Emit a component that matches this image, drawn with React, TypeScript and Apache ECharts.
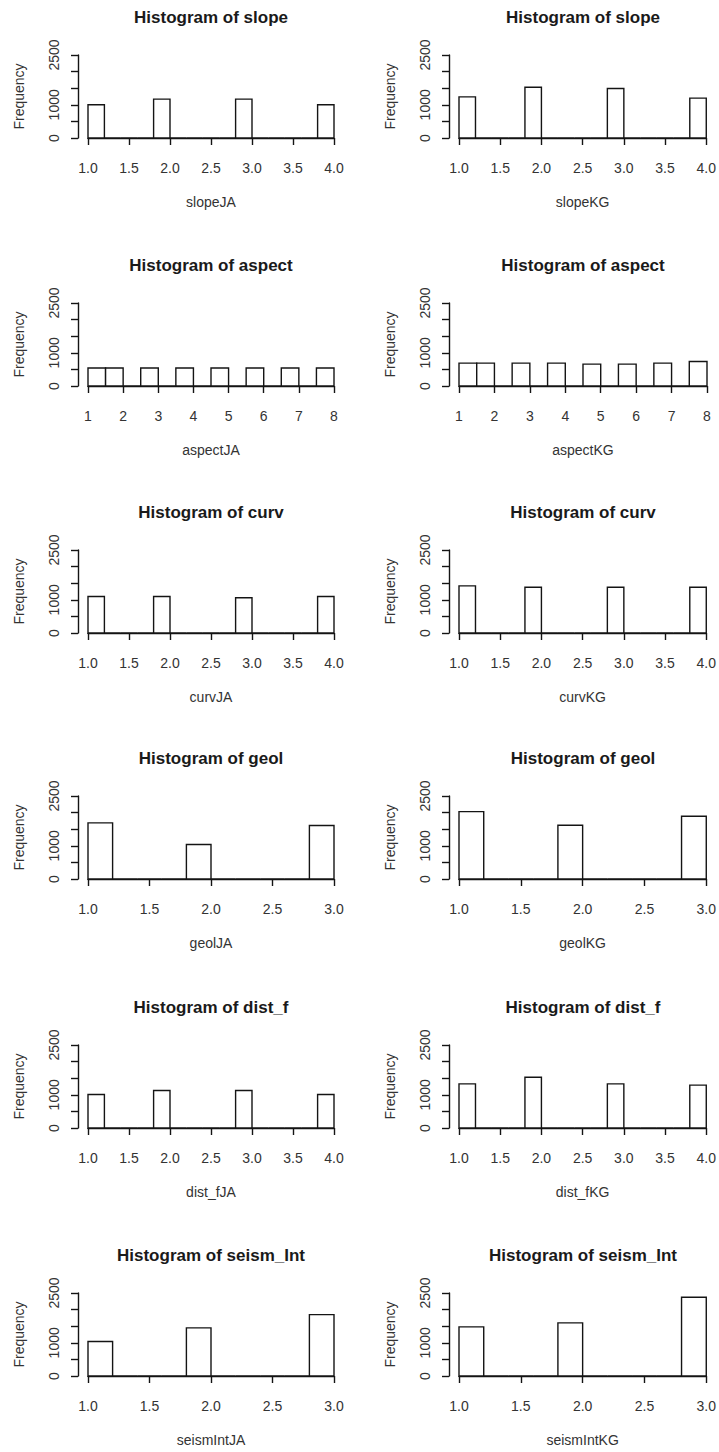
import React, { useEffect, useRef } from "react";
import * as echarts from "echarts";

// ---- bin breaks ----
const breaksOneToFour = [1.0, 1.2, 1.4, 1.6, 1.8, 2.0, 2.2, 2.4, 2.6, 2.8, 3.0, 3.2, 3.4, 3.6, 3.8, 4.0];
const breaksOneToEight = [1, 1.5, 2, 2.5, 3, 3.5, 4, 4.5, 5, 5.5, 6, 6.5, 7, 7.5, 8];
const breaksOneToThree = [1.0, 1.2, 1.4, 1.6, 1.8, 2.0, 2.2, 2.4, 2.6, 2.8, 3.0];

// ---- counts per bin ----
const slopeJA = [1000, 0, 0, 0, 1170, 0, 0, 0, 0, 1170, 0, 0, 0, 0, 1000];
const slopeKG = [1240, 0, 0, 0, 1530, 0, 0, 0, 0, 1490, 0, 0, 0, 0, 1200];
const aspectJA = [540, 540, 0, 540, 0, 540, 0, 540, 0, 540, 0, 540, 0, 540];
const aspectKG = [690, 690, 0, 690, 0, 690, 0, 660, 0, 660, 0, 690, 0, 740];
const curvJA = [1100, 0, 0, 0, 1100, 0, 0, 0, 0, 1060, 0, 0, 0, 0, 1100];
const curvKG = [1420, 0, 0, 0, 1380, 0, 0, 0, 0, 1380, 0, 0, 0, 0, 1380];
const geolJA = [1690, 0, 0, 0, 1040, 0, 0, 0, 0, 1610];
const geolKG = [2030, 0, 0, 0, 1620, 0, 0, 0, 0, 1890];
const distFJA = [1010, 0, 0, 0, 1130, 0, 0, 0, 0, 1130, 0, 0, 0, 0, 1010];
const distFKG = [1330, 0, 0, 0, 1530, 0, 0, 0, 0, 1330, 0, 0, 0, 0, 1290];
const seismIntJA = [1040, 0, 0, 0, 1450, 0, 0, 0, 0, 1850];
const seismIntKG = [1480, 0, 0, 0, 1600, 0, 0, 0, 0, 2370];

// ---- labels ----
const panelTitles = [
  "Histogram of slope", "Histogram of slope",
  "Histogram of aspect", "Histogram of aspect",
  "Histogram of curv", "Histogram of curv",
  "Histogram of geol", "Histogram of geol",
  "Histogram of dist_f", "Histogram of dist_f",
  "Histogram of seism_Int", "Histogram of seism_Int",
];
const xAxisNames = [
  "slopeJA", "slopeKG", "aspectJA", "aspectKG", "curvJA", "curvKG",
  "geolJA", "geolKG", "dist_fJA", "dist_fKG", "seismIntJA", "seismIntKG",
];
const yAxisName = "Frequency";
const yTickValues = [0, 500, 1000, 1500, 2000, 2500];
const yLabelledTicks = [0, 1000, 2500];

const panelCounts = [slopeJA, slopeKG, aspectJA, aspectKG, curvJA, curvKG, geolJA, geolKG, distFJA, distFKG, seismIntJA, seismIntKG];
const panelBreaks = [
  breaksOneToFour, breaksOneToFour, breaksOneToEight, breaksOneToEight,
  breaksOneToFour, breaksOneToFour, breaksOneToThree, breaksOneToThree,
  breaksOneToFour, breaksOneToFour, breaksOneToThree, breaksOneToThree,
];
const panelXInterval = [0.5, 0.5, 1, 1, 0.5, 0.5, 0.5, 0.5, 0.5, 0.5, 0.5, 0.5];

// ---- layout ----
const W = 719;
const H = 1452;
const rowBaseY = [138, 386, 633, 879, 1128, 1376];
const colLeft = [88, 459];
const colWidth = [246, 248];
const plotH = 83;
const FONT = '"Liberation Sans", Arial, Helvetica, sans-serif';
const INK = "#141414";
const TEXT = "#333333";

export default function App() {
  const ref = useRef<HTMLDivElement>(null);

  useEffect(() => {
    document.body.style.margin = "0";
    if (!ref.current) return;
    const chart = echarts.init(ref.current, null, { renderer: "svg" });

    const grids: any[] = [];
    const xAxes: any[] = [];
    const yAxes: any[] = [];
    const series: any[] = [];
    const titles: any[] = [];

    panelCounts.forEach((counts, i) => {
      const row = Math.floor(i / 2);
      const col = i % 2;
      const breaks = panelBreaks[i];
      const base = rowBaseY[row];
      const left = colLeft[col];
      const width = colWidth[col];
      grids.push({ left, top: base - plotH, width, height: plotH, containLabel: false });

      const interval = panelXInterval[i];
      xAxes.push({
        gridIndex: i,
        type: "value",
        min: breaks[0],
        max: breaks[breaks.length - 1],
        interval,
        offset: 5,
        axisLine: { show: true, lineStyle: { color: INK, width: 1.4 } },
        axisTick: { show: true, length: 7, lineStyle: { color: INK, width: 1.4 } },
        axisLabel: {
          margin: 18,
          fontSize: 14,
          color: TEXT,
          fontFamily: FONT,
          showMinLabel: true,
          showMaxLabel: true,
          hideOverlap: false,
          formatter: (v: number) => (interval < 1 ? v.toFixed(1) : String(v)),
        },
        splitLine: { show: false },
        name: xAxisNames[i],
        nameLocation: "middle",
        nameGap: 52,
        nameTextStyle: { fontSize: 14, color: TEXT, fontFamily: FONT },
      });

      yAxes.push({
        gridIndex: i,
        type: "value",
        min: yTickValues[0],
        max: yTickValues[yTickValues.length - 1],
        interval: yTickValues[1] - yTickValues[0],
        offset: 10,
        axisLine: { show: true, lineStyle: { color: INK, width: 1.4 } },
        axisTick: { show: true, length: 7, lineStyle: { color: INK, width: 1.4 } },
        axisLabel: {
          rotate: 90,
          margin: 17,
          fontSize: 14,
          color: TEXT,
          fontFamily: FONT,
          showMinLabel: true,
          showMaxLabel: true,
          hideOverlap: false,
          formatter: (v: number) => (yLabelledTicks.includes(v) ? String(v) : ""),
        },
        splitLine: { show: false },
        name: yAxisName,
        nameLocation: "middle",
        nameRotate: 90,
        nameGap: 52,
        nameTextStyle: { fontSize: 14, color: TEXT, fontFamily: FONT },
      });

      const data = counts.map((c, k) => [breaks[k], breaks[k + 1], c]);
      series.push({
        type: "custom",
        xAxisIndex: i,
        yAxisIndex: i,
        encode: { x: [0, 1], y: 2 },
        data,
        renderItem: (params: any, api: any) => {
          const x0 = api.value(0);
          const x1 = api.value(1);
          const c = api.value(2);
          const p0 = api.coord([x0, 0]);
          const p1 = api.coord([x1, c]);
          if (c === 0) {
            return {
              type: "line",
              shape: { x1: p0[0], y1: p0[1], x2: p1[0], y2: p0[1] },
              style: { stroke: INK, lineWidth: 1.4 },
            };
          }
          return {
            type: "rect",
            shape: { x: p0[0], y: p1[1], width: p1[0] - p0[0], height: p0[1] - p1[1] },
            style: { fill: "#ffffff", stroke: INK, lineWidth: 1.4 },
          };
        },
      });

      titles.push({
        text: panelTitles[i],
        left: left - 10 + (width + 20) / 2,
        top: base - 119 - 10,
        textAlign: "center",
        padding: 0,
        textStyle: { fontSize: 17, fontWeight: "bold", color: "#1a1a1a", fontFamily: FONT },
      });
    });

    chart.setOption({
      animation: false,
      backgroundColor: "#ffffff",
      title: titles,
      grid: grids,
      xAxis: xAxes,
      yAxis: yAxes,
      series,
    });

    return () => chart.dispose();
  }, []);

  return <div ref={ref} style={{ width: W, height: H }} />;
}
